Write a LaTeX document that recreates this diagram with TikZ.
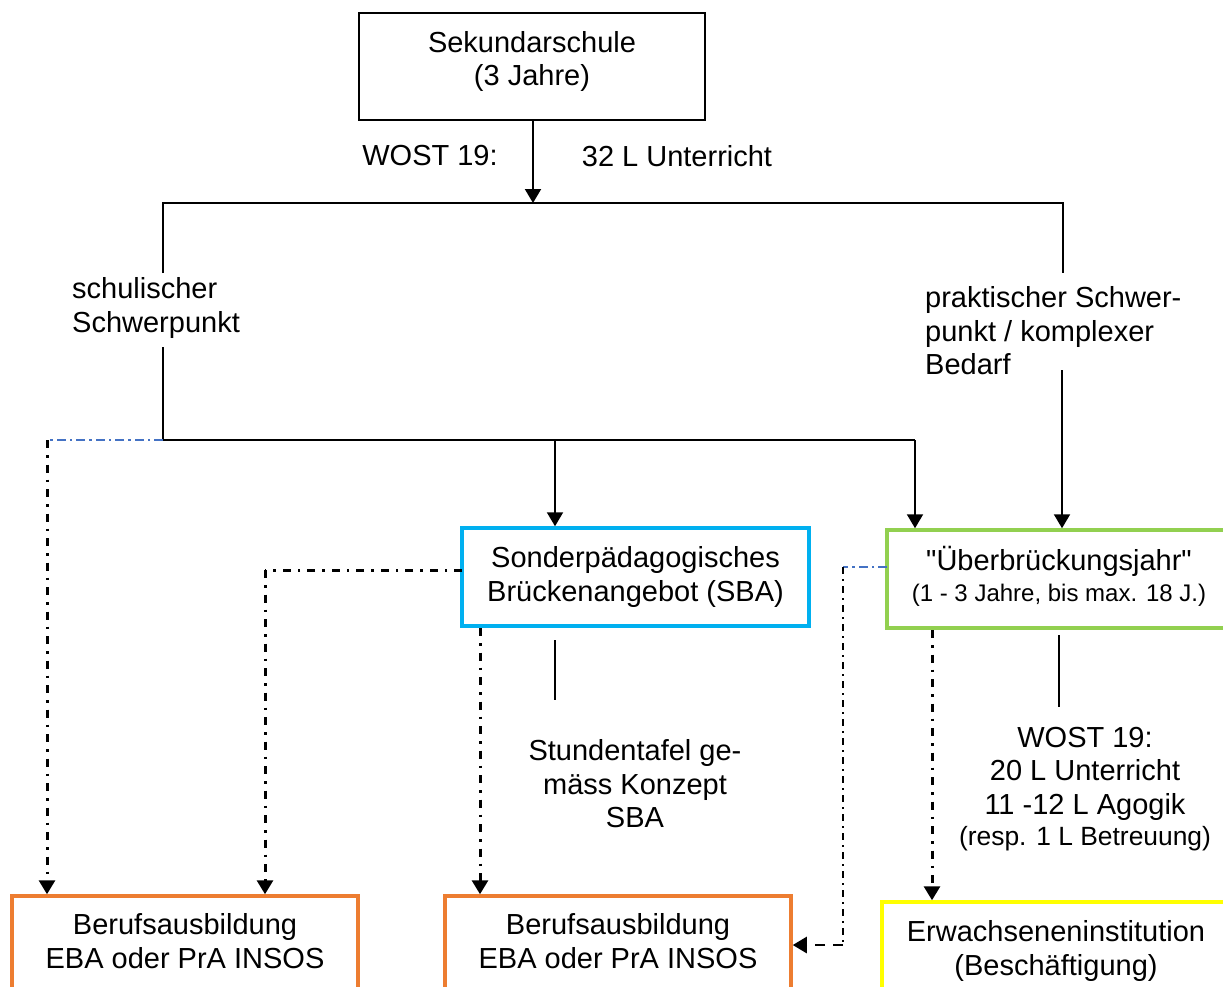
\documentclass[tikz,border=0pt]{standalone}
\usepackage{fontspec}
\setmainfont{Liberation Sans}
\usetikzlibrary{arrows.meta}
\definecolor{sbablue}{RGB}{0,176,240}
\definecolor{ubgreen}{RGB}{146,208,80}
\definecolor{eorange}{RGB}{237,125,49}
\definecolor{eyellow}{RGB}{255,255,0}
\definecolor{ddblue}{RGB}{68,114,196}
\newcommand\fbig{\fontsize{29}{33.5}\selectfont}
\newcommand\fsmall{\fontsize{24}{31}\selectfont}
\newcommand\fmid{\fontsize{26.4}{31}\selectfont}
\newcommand\lift[2]{\raisebox{#1}[\height][\depth]{\begin{tabular}{@{}c@{}}#2\end{tabular}}}
\begin{document}
\begin{tikzpicture}[x=1pt,y=-1pt,
  box/.style={draw, minimum width=346pt, minimum height=98pt, align=center, font=\fbig, inner sep=0pt},
  txt/.style={align=center, font=\fbig, inner sep=0pt},
  ln/.style={line width=2pt},
  arr/.style={line width=2pt, -{Triangle[width=16pt,length=14pt]}},
  ddk/.style={line width=3pt, dash pattern=on 8pt off 7pt on 2.5pt off 7pt},
  ddt/.style={line width=2pt, dash pattern=on 7pt off 5pt on 2pt off 5pt},
  ddb/.style={line width=2pt, ddblue, dash pattern=on 9pt off 4pt on 2.5pt off 4pt},
  dsh/.style={line width=2.5pt, dash pattern=on 10pt off 8pt}
]
\useasboundingbox (0,0) rectangle (1223,986);
\clip (0,0) rectangle (1223,986);

% boxes
\node[box, line width=2pt, minimum width=346pt, minimum height=107pt] (sek) at (532,66.5) {\lift{4pt}{Sekundarschule\\(3 Jahre)}};
\node[box, draw=sbablue, line width=3.5pt, minimum width=347pt] (sba) at (635.5,577) {Sonderpädagogisches\\Brückenangebot (SBA)};
\node[box, draw=ubgreen, line width=3.5pt, minimum width=344pt] (ub) at (1059,579) {\lift{0pt}{\textquotedbl Überbrückungsjahr\textquotedbl\\[-2.5pt] {\fsmall (1 - 3 Jahre, bis max. 18 J.)}}};
\node[box, draw=eorange, line width=3.5pt] (b1) at (185,945) {\lift{0pt}{Berufsausbildung\\EBA oder PrA INSOS}};
\node[box, draw=eorange, line width=3.5pt] (b2) at (618,945) {\lift{0pt}{Berufsausbildung\\EBA oder PrA INSOS}};
\node[box, draw=eyellow, line width=3.5pt, minimum width=348pt] (b3) at (1056,951) {Erwachseneninstitution\\(Beschäftigung)};

% labels
\node[txt] (w1) at (430,156) {WOST 19:};
\node[txt] (w2) at (677,156) {32 L Unterricht};
\node[txt, align=left, anchor=west] (schul) at (72,308) {schulischer\\Schwerpunkt};
\node[txt, align=left, anchor=west] (prakt) at (925,331) {praktischer Schwer-\\punkt / komplexer\\Bedarf};
\node[txt] (stund) at (635,784) {Stundentafel ge-\\mäss Konzept\\SBA};
\node[txt] (wost) at (1085,789) {WOST 19:\\20 L Unterricht\\11 -12 L Agogik\\[-2pt] {\fmid (resp. 1 L Betreuung)}};

% coordinates
\coordinate (j0) at (533,203);
\coordinate (jl) at (163,203);
\coordinate (jr) at (1063,203);
\coordinate (jl1) at (163,273);
\coordinate (jl2) at (163,347);
\coordinate (jr1) at (1063,273);
\coordinate (jr2) at (1062,370);
\coordinate (hl) at (163,440);
\coordinate (hm) at (555,440);
\coordinate (hr) at (915,440);
\coordinate (dl) at (47,440);
\coordinate (s1) at (462,570);
\coordinate (s2) at (265,570);
\coordinate (s3) at (480,628);
\coordinate (s4) at (555,640);
\coordinate (s5) at (555,700);
\coordinate (u1) at (887,567);
\coordinate (u2) at (843,567);
\coordinate (u3) at (843,945);
\coordinate (u4) at (932,630);
\coordinate (u5) at (1059,635);
\coordinate (u6) at (1059,707);

% connectors
\draw[arr] (sek.south -| j0) -- (j0);
\draw[ln] (jl1) -- (jl) -- (jr) -- (jr1);
\draw[arr] (jr2) -- (jr2 |- ub.north);
\draw[ln] (jl2) -- (hl) -- (hr);
\draw[arr] (hr) -- (hr |- ub.north);
\draw[arr] (hm) -- (hm |- sba.north);
\draw[ddb] (hl) -- (dl);
\draw[ddk, -{Triangle[width=16pt,length=14pt]}] (dl) -- (dl |- b1.north);
\draw[ddk] (s1) -- (s2);
\draw[ddk, -{Triangle[width=16pt,length=14pt]}] (s2) -- (s2 |- b1.north);
\draw[ddk, -{Triangle[width=16pt,length=14pt]}] (s3) -- (s3 |- b2.north);
\draw[ln] (s4) -- (s5);
\draw[ddb] (u1) -- (u2);
\draw[ddt] (u2) -- (u3);
\draw[dsh, -{Triangle[width=16pt,length=14pt]}] (u3) -- (b2.east);
\draw[ddk, -{Triangle[width=16pt,length=14pt]}] (u4) -- (u4 |- b3.north);
\draw[ln] (u5) -- (u6);
\end{tikzpicture}
\end{document}
